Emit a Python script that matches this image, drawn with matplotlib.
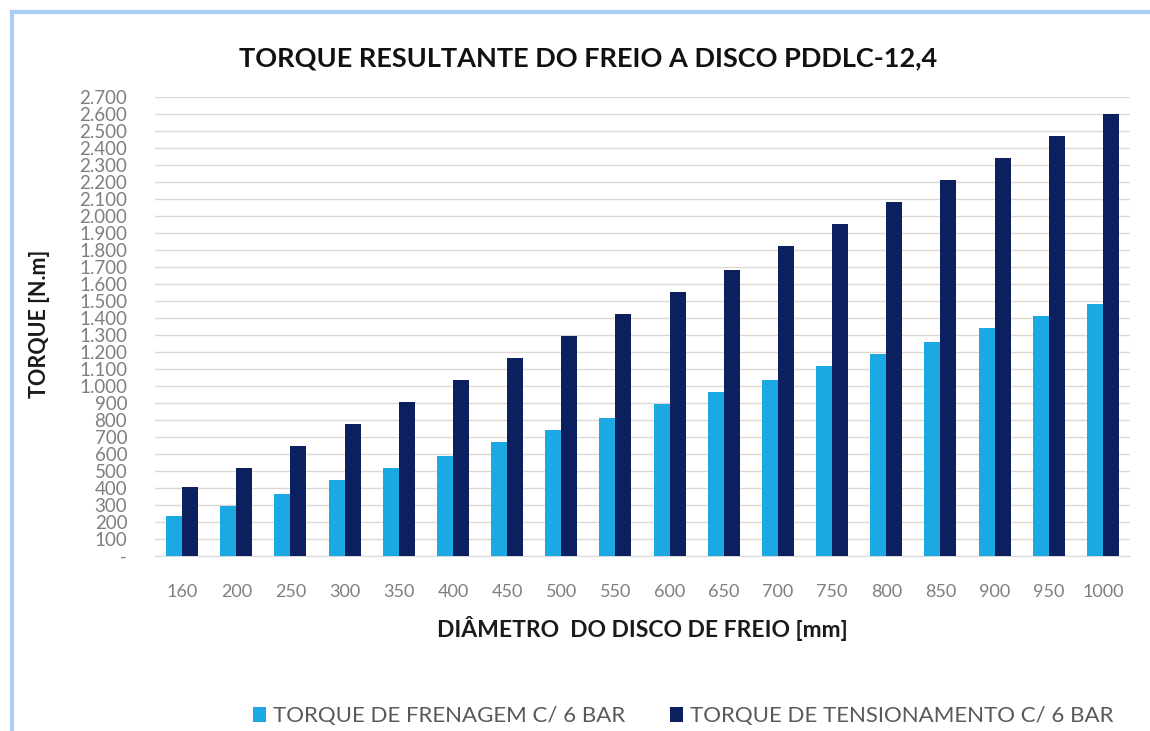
import numpy as np
import matplotlib.pyplot as plt
from matplotlib.lines import Line2D

plt.rcParams['font.family'] = ['Lato', 'DejaVu Sans']

diametros = ['160', '200', '250', '300', '350', '400', '450', '500', '550',
             '600', '650', '700', '750', '800', '850', '900', '950', '1000']
frenagem = [235, 294, 363, 447, 516, 588, 671, 741, 810,
            892, 963, 1033, 1118, 1186, 1257, 1339, 1410, 1482]
tensionamento = [408, 516, 645, 776, 906, 1035, 1163, 1294, 1424,
                 1551, 1682, 1824, 1953, 2082, 2212, 2341, 2470, 2600]
yticks = list(range(0, 2800, 100))
ylabels = ['-' if v == 0 else f'{v:,}'.replace(',', '.') for v in yticks]

cor_fren = '#1ca8e3'
cor_tens = '#0c1f5f'

fig = plt.figure(figsize=(11.5, 7.31), dpi=100)
ax = fig.add_axes([0.1348, 0.2394, 0.8478, 0.6279])

# moldura azul clara (topo e lado esquerdo)
borda = '#a9cdf5'
fig.add_artist(Line2D([0.0104, 1.0], [0.983, 0.983], transform=fig.transFigure,
                      color=borda, linewidth=3))
fig.add_artist(Line2D([0.0104, 0.0104], [0.983, 0.0], transform=fig.transFigure,
                      color=borda, linewidth=3))

x = np.arange(len(diametros))
w = 0.295
ax.bar(x - w / 2, frenagem, w, color=cor_fren, label='TORQUE DE FRENAGEM C/ 6 BAR', zorder=3)
ax.bar(x + w / 2, tensionamento, w, color=cor_tens, label='TORQUE DE TENSIONAMENTO C/ 6 BAR', zorder=3)

ax.set_xlim(-0.5, len(diametros) - 0.5)
ax.set_ylim(0, 2700)
ax.set_yticks(yticks)
ax.set_yticklabels(ylabels)
ax.set_xticks(x)
ax.set_xticklabels(diametros)

ax.grid(axis='y', color='#dcd9d3', linewidth=1, zorder=0)
for s in ['top', 'right', 'left']:
    ax.spines[s].set_visible(False)
ax.spines['bottom'].set_color('#d9d9d9')
ax.tick_params(axis='both', length=0, colors='#7f7f7f')
ax.tick_params(axis='y', pad=20, labelsize=13.5)
ax.tick_params(axis='x', pad=20, labelsize=13)

ax.set_ylabel('TORQUE [N.m]', fontsize=15.5, fontweight='bold', color='#1a1a1a')
ax.yaxis.set_label_coords(-0.108, 0.505)
ax.set_xlabel('DIÂMETRO  DO DISCO DE FREIO [mm]', fontsize=16.5, fontweight='bold',
              color='#1a1a1a', labelpad=12)

fig.text(0.511, 0.921, 'TORQUE RESULTANTE DO FREIO A DISCO PDDLC-12,4', ha='center',
         va='center', fontsize=19.5, fontweight='bold', color='#111111')

fig.legend(loc='center', bbox_to_anchor=(0.594, 0.02), ncol=2, frameon=False,
           fontsize=16, labelcolor='#595959', handlelength=0.6, handleheight=0.6,
           handletextpad=0.3, columnspacing=2.0)

fig.savefig('out.png', dpi=100, facecolor='white')
